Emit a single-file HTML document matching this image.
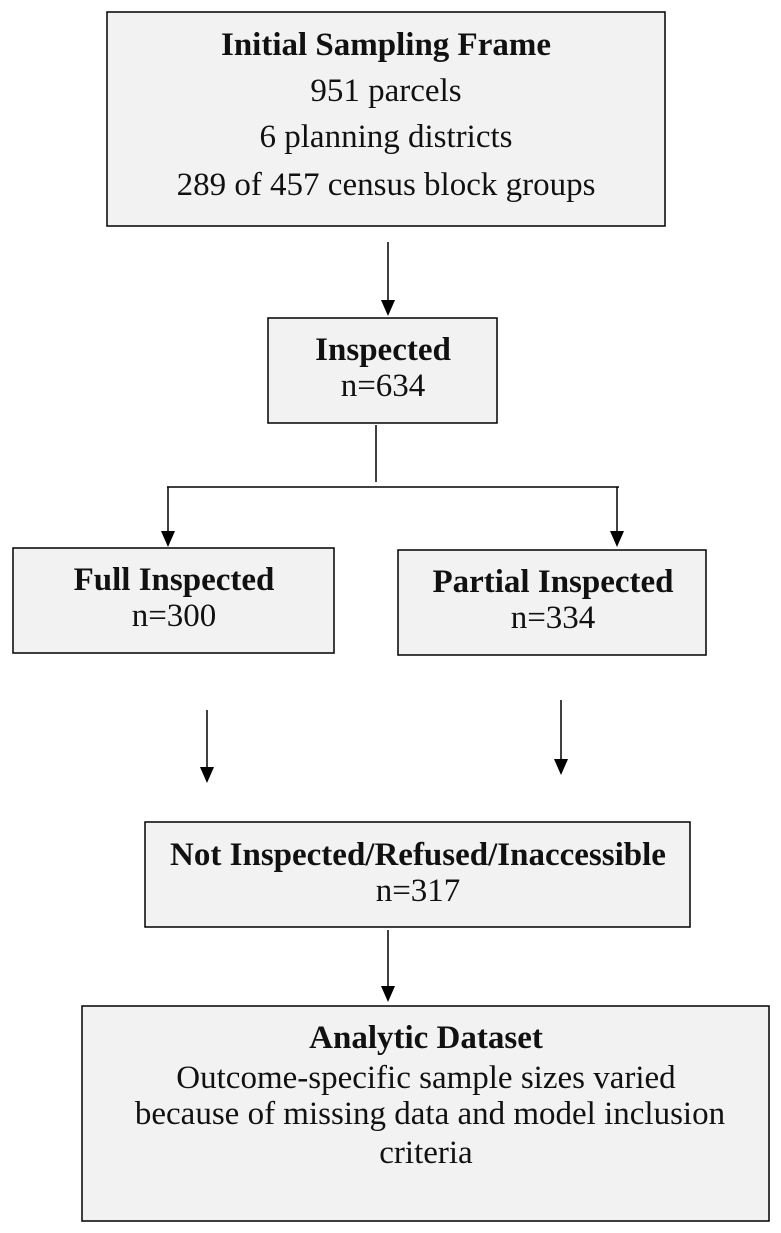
<!DOCTYPE html>
<html><head><meta charset="utf-8"><style>
html,body{margin:0;padding:0;background:#fff;}
svg{display:block;}
text{font-family:"Liberation Serif",serif;font-size:33px;fill:#111;text-anchor:middle;}
.b{font-weight:bold;}
rect{fill:#f2f2f2;stroke:#000;stroke-width:1.5;}
line{stroke:#000;stroke-width:1.5;}
polygon{fill:#000;}
</style></head><body>
<svg width="781" height="1233" viewBox="0 0 781 1233">
<rect x="107" y="12" width="558" height="214"/>
<text class="b" x="386" y="55">Initial Sampling Frame</text>
<text x="386" y="101">951 parcels</text>
<text x="386" y="147">6 planning districts</text>
<text x="386" y="195">289 of 457 census block groups</text>

<line x1="388" y1="242" x2="388" y2="302"/>
<polygon points="381,300 395,300 388,316"/>

<rect x="268" y="318" width="229" height="105"/>
<text class="b" x="383" y="360">Inspected</text>
<text x="383" y="396">n=634</text>

<line x1="376" y1="425" x2="376" y2="482"/>
<line x1="167" y1="487" x2="619" y2="487"/>
<line x1="168" y1="487" x2="168" y2="533"/>
<polygon points="161,531 175,531 168,547"/>
<line x1="617" y1="487" x2="617" y2="533"/>
<polygon points="610,531 624,531 617,547"/>

<rect x="13" y="548" width="321" height="105"/>
<text class="b" x="174" y="590">Full Inspected</text>
<text x="174" y="626">n=300</text>

<rect x="398" y="550" width="308" height="105"/>
<text class="b" x="553" y="592">Partial Inspected</text>
<text x="553" y="628">n=334</text>

<line x1="207" y1="710" x2="207" y2="769"/>
<polygon points="200,767 214,767 207,783"/>
<line x1="561" y1="700" x2="561" y2="761"/>
<polygon points="554,759 568,759 561,775"/>

<rect x="145" y="822" width="545" height="105"/>
<text class="b" x="418" y="865">Not Inspected/Refused/Inaccessible</text>
<text x="418" y="901">n=317</text>

<line x1="388" y1="930" x2="388" y2="988"/>
<polygon points="381,986 395,986 388,1002"/>

<rect x="82" y="1006" width="687" height="215"/>
<text class="b" x="426" y="1048">Analytic Dataset</text>
<text x="426" y="1088">Outcome-specific sample sizes varied</text>
<text x="430" y="1124">because of missing data and model inclusion</text>
<text x="426" y="1163">criteria</text>
</svg>
</body></html>
